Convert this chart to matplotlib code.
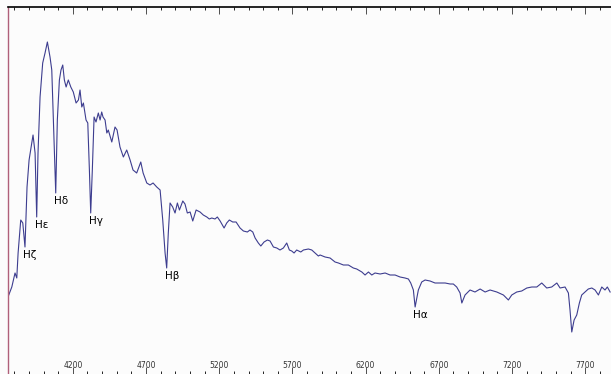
import numpy as np
import matplotlib.pyplot as plt

# wavelength (Angstrom) and relative flux
wavelength = np.array([
    3757, 3783, 3805, 3817, 3826, 3844, 3858, 3873, 3887, 3901,
    3919, 3928, 3942, 3953, 3962, 3976, 3994, 4010, 4026, 4044,
    4056, 4067, 4083, 4094, 4108, 4119, 4131, 4142, 4154, 4169,
    4186, 4203, 4222, 4238, 4249, 4261, 4272, 4290, 4302, 4313,
    4322, 4333, 4345, 4358, 4374, 4386, 4397, 4406, 4420, 4432,
    4442, 4466, 4488, 4502, 4522, 4545, 4568, 4591, 4611, 4636,
    4664, 4680, 4705, 4727, 4748, 4773, 4796, 4814, 4830, 4841,
    4852, 4864, 4882, 4898, 4914, 4928, 4951, 4966, 4982, 5001,
    5019, 5042, 5069, 5091, 5115, 5132, 5149, 5171, 5187, 5206,
    5233, 5251, 5269, 5292, 5315, 5342, 5365, 5392, 5410, 5429,
    5445, 5467, 5484, 5506, 5529, 5547, 5570, 5593, 5615, 5638,
    5661, 5679, 5695, 5711, 5729, 5757, 5775, 5809, 5832, 5854,
    5877, 5889, 5923, 5957, 5991, 6014, 6048, 6082, 6116, 6139,
    6174, 6196, 6219, 6242, 6264, 6299, 6333, 6367, 6401, 6435,
    6469, 6492, 6508, 6526, 6538, 6560, 6583, 6606, 6640, 6674,
    6708, 6743, 6777, 6799, 6822, 6845, 6857, 6879, 6913, 6947,
    6982, 7016, 7050, 7096, 7141, 7175, 7198, 7232, 7266, 7301,
    7335, 7369, 7403, 7437, 7471, 7506, 7528, 7562, 7585, 7596,
    7608, 7624, 7642, 7660, 7676, 7699, 7721, 7745, 7767, 7790,
    7813, 7835, 7851, 7870,
])
flux = np.array([
    77, 87, 101, 96, 121, 154, 151, 127, 187, 214,
    231, 239, 221, 157, 221, 277, 311, 321, 332, 317,
    304, 254, 181, 254, 294, 304, 309, 294, 287, 294,
    287, 282, 271, 274, 284, 267, 271, 254, 251, 204,
    161, 204, 257, 252, 261, 254, 262, 257, 254, 241,
    244, 232, 247, 244, 227, 217, 224, 214, 204, 201,
    212, 201, 191, 189, 191, 187, 184, 154, 121, 106,
    141, 171, 167, 161, 171, 164, 173, 170, 161, 162,
    153, 164, 162, 159, 157, 155, 156, 155, 157, 153,
    146, 151, 154, 152, 152, 146, 143, 142, 144, 142,
    136, 131, 128, 132, 134, 133, 127, 126, 124, 126,
    131, 124, 123, 121, 124, 122, 124, 125, 124, 121,
    118, 119, 117, 116, 112, 111, 109, 109, 106, 105,
    102, 99, 102, 99, 101, 100, 101, 99, 99, 97,
    96, 95, 91, 84, 67, 84, 92, 94, 93, 91,
    91, 91, 90, 90, 87, 81, 71, 79, 84, 82,
    85, 82, 84, 82, 79, 74, 79, 82, 83, 86,
    87, 87, 91, 86, 87, 91, 86, 87, 81, 64,
    42, 54, 59, 71, 79, 82, 85, 86, 84, 79,
    87, 84, 87, 82,
])

# absorption lines: label and wavelength of the trough
line_names = ['H\u03b6', 'H\u03b5', 'H\u03b4', 'H\u03b3', 'H\u03b2', 'H\u03b1']
line_wavelengths = [3873, 3953, 4083, 4322, 4841, 6538]

major_ticks = np.arange(4200, 7701, 500)
minor_ticks = np.arange(3800, 7801, 100)

fig = plt.figure(figsize=(6.11, 3.74), dpi=100)
fig.patch.set_facecolor('#fcfcfc')
ax = fig.add_axes([8 / 611, 0, 603 / 611, 367 / 374])
ax.set_facecolor('#fcfcfc')

ax.plot(wavelength, flux, color='#3d3d8f', lw=0.8)

for name, wl in zip(line_names, line_wavelengths):
    ax.annotate(name, xy=(wl, np.interp(wl, wavelength, flux)),
                xytext=(-1.5, -2.5), textcoords='offset points',
                ha='left', va='top', fontsize=7.5, color='black',
                family='DejaVu Sans')

ax.set_xlim(3757, 7876)
ax.set_ylim(0, 367)

ax.set_xticks(major_ticks)
ax.set_xticks(minor_ticks, minor=True)
ax.set_xticklabels([str(t) for t in major_ticks])
ax.set_yticks([])
ax.tick_params(axis='x', which='major', direction='in', length=5, width=0.6,
               top=True, pad=-9, labelsize=5.5, colors='#333333')
ax.tick_params(axis='x', which='minor', direction='in', length=2.5, width=0.6,
               top=True)

ax.spines['right'].set_visible(False)
ax.spines['bottom'].set_visible(False)
ax.spines['top'].set_color('black')
ax.spines['top'].set_linewidth(1.2)
ax.spines['left'].set_color('#b0607a')
ax.spines['left'].set_linewidth(1.0)

fig.savefig('out.png', dpi=100, facecolor=fig.get_facecolor())
